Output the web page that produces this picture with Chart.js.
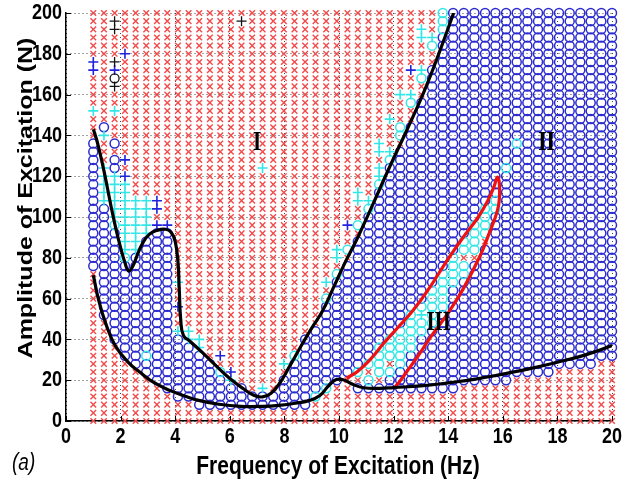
<!DOCTYPE html>
<html><head><meta charset="utf-8">
<script src="https://cdn.jsdelivr.net/npm/chart.js@4.4.0/dist/chart.umd.min.js"></script>
<style>html,body{margin:0;padding:0;background:#fff}#wrap{width:632px;height:480px;position:relative}</style>
</head><body><div id="wrap"><canvas id="c"></canvas></div>
<script>
// Frequency grid (Hz) – columns of the simulation map
const freqs = [1.00,1.39,1.78,2.16,2.55,2.94,3.33,3.71,4.10,4.49,4.88,5.27,5.65,6.04,6.43,6.82,7.20,7.59,7.98,8.37,8.76,9.14,9.53,9.92,10.31,10.69,11.08,11.47,11.86,12.24,12.63,13.02,13.41,13.80,14.18,14.57,14.96,15.35,15.73,16.12,16.51,16.90,17.29,17.67,18.06,18.45,18.84,19.22,19.61,20.00];
// Amplitude grid (N) – rows of the map, top to bottom
const amps = [200,196,192,188,184,180,176,172,168,164,160,156,152,148,144,140,136,132,128,124,120,116,112,108,104,100,96,92,88,84,80,76,72,68,64,60,56,52,48,44,40,36,32,28,24,20,16,12,8,4,0];
// Response type per cell: x=red cross, o=blue circle, c=cyan circle, p=cyan plus, b=blue plus, k=black plus, K=black circle
const X10="xxxxxxxxxx", O10="oooooooooo";
const responseMap = [
 X10+X10+X10+"xxxcoooooo"+O10,
 "xxkxxxxxxx"+"xxxxkxxxxx"+X10+"xxxcoooooo"+O10,
 "xxkxxxxxxx"+X10+X10+"xpxcoooooo"+O10,
 X10+X10+X10+"xppooooooo"+O10,
 X10+X10+X10+"xxcooooooo"+O10,
 "xxxbxxxxxx"+X10+X10+"xxxooooooo"+O10,
 "bxkxxxxxxx"+X10+X10+"xxxooooooo"+O10,
 "bxbxxxxxxx"+X10+X10+"bpoooooooo"+O10,
 "xxKxxxxxxx"+X10+X10+"xcoooooooo"+O10,
 "xxkxxxxxxx"+X10+X10+"xxoooooooo"+O10,
 X10+X10+"xxxxxxxxxp"+"pxoooooooo"+O10,
 X10+X10+X10+"cooooooooo"+O10,
 "pxpxxxxxxx"+X10+X10+"xooooooooo"+O10,
 X10+X10+"xxxxxxxxpx"+"xooooooooo"+O10,
 "xoxxxxxxxx"+X10+"xxxxxxxxxc"+O10+O10,
 "xpxxxxxxxx"+X10+"xxxxxxxxxc"+O10+O10,
 "oxoxxxxxxx"+X10+"xxxxxxxpxx"+O10+"cooooooooo",
 "oxxxxxxxxx"+X10+"xxxxxxxppo"+O10+O10,
 "oxobxxxxxx"+X10+"xxxxxxxxco"+O10+O10,
 "opoxxxxxxx"+"xxxxxxpxxx"+"xxxxxxxpoo"+"oooooooooc"+O10,
 "oppbxxxxxx"+X10+"xxxxxxxpoo"+O10+O10,
 "opppxxxxxx"+X10+"xxxxxxxcoo"+O10+O10,
 "opppxxxxxx"+X10+"xxxxxpxooo"+O10+O10,
 "opppppbxxx"+X10+"xxxxxppooo"+"ooooooooco"+O10,
 "ooppppbxxx"+X10+"xxxxxxcooo"+"ooooooocco"+O10,
 "ooppppxxxx"+X10+"xxxxxxoooo"+"ooooooocoo"+O10,
 "oocpppbbxx"+X10+"xxxxbcoooo"+"ooooooccoo"+O10,
 "ooopppooxx"+X10+"xxxxxxoooo"+"ooooooccoo"+O10,
 "oooppoooxx"+X10+"xxxxxooooo"+"oooooccxoo"+O10,
 "oooppoooxx"+X10+"xxxpcooooo"+"oooooccooo"+O10,
 "ooocooooxx"+X10+"xxxpxooooo"+"oooocxxooo"+O10,
 "ooooooooxx"+X10+"xxxxoooooo"+"ooooccoooo"+O10,
 "xoooooooxx"+X10+"xxxcoooooo"+"ooocccoooo"+O10,
 "xooooooopx"+X10+"xxpooooooo"+"oooccooooo"+O10,
 "xoooooooxx"+X10+"xxxooooooo"+"ooccoooooo"+O10,
 "xoooooooxx"+X10+"xxcooooooo"+"ooccoooooo"+O10,
 "xooooooobx"+X10+"xxoooooooo"+"occcoooooo"+O10,
 "xoooooooxx"+X10+"xxoooooooo"+"cpcooooooo"+O10,
 "xxooooooxx"+X10+"xxoooooooo"+"cccooooooo"+O10,
 "xxoooooopp"+X10+"xooooooooc"+"ccoooooooo"+O10,
 "xxooooooop"+"pxxxxxxxxx"+"oooooooocc"+"cooooooooo"+O10,
 "xxxooooooo"+"pxxxxxxxxx"+"oooooooccc"+"cooooooooo"+O10,
 "xxxoocoooo"+"oxbxxxxxxc"+"oooooooccc"+O10+O10,
 "xxxxoooooo"+"ooxxxxxxpo"+"ooooooccxc"+O10+"ooooooooxx",
 "xxxxxooooo"+"oocbxxxxxo"+"ooooocxcco"+O10+"ooooxxxxxx",
 "xxxxxxoooo"+"ooopxxxxoo"+"ooooxxcxoo"+O10+X10,
 "xxxxxxxooo"+"oooooxpxoo"+"oocxxooooo"+"oooooxxxxx"+X10,
 "xxxxxxxxoo"+O10+"ocxxxxxxxx"+X10+X10,
 X10+O10+"oxxxxxxxxx"+X10+X10,
 X10+X10+X10+X10+X10,
 X10+X10+X10+X10+X10
];
// Boundary curves (Hz, N)
const upperCurveF = [1.0,1.12,1.25,1.4,1.55,1.7,1.85,2.0,2.15,2.3,2.45,2.6,2.8,3.05,3.35,3.65,3.85,4.0,4.1,4.15,4.2,4.3,4.55,5.0,5.5,6.0,6.5,6.9,7.2,7.5,7.8,8.2,8.6,9.0,9.4,9.8,10.2,10.65,11.2,11.87,12.5,13.1,13.6,14.2];
const upperCurveA = [143,138,131,122,112,102,93,85,78,73.5,76,81,87,91.5,93.5,94,92.5,88,78,64,50,42,39,33.5,27,20.8,15.8,12.5,11.8,13.5,18,27,36.5,45.5,54,65.5,77,89,105,125,143,161,178,200];
const lowerCurveF = [1.0,1.2,1.45,1.8,2.3,2.7,3.2,3.8,4.4,4.9,5.6,6.4,7.2,7.8,8.4,8.9,9.3,9.6,9.9,10.2,10.5,10.9,11.5,12.0,13.0,14.0,15.0,16.0,17.0,18.0,19.0,20.0];
const lowerCurveA = [71.5,59,48,37,28.5,24,19,15,12,10,8.2,7.2,7.2,7.7,8.7,10,12.5,17,20.3,20,18,16.3,16,16.4,17.2,18.7,20.5,23,25.7,28.8,32.3,37];
const loopCurveF = [10.28,10.7,11.2,11.6,12.1,12.7,13.3,13.95,14.6,15.1,15.45,15.68,15.8,15.87,15.88,15.8,15.5,15.17,14.56,14.0,13.4,12.9,12.5,12.2,12.0];
const loopCurveA = [21,24.5,31,37.5,45,54,65,78.5,91,100,108,115,119.5,117,110,103,92,81,65,53,42,32,24.5,19,16];
// Region labels
const regionLabels = [{t:"I",f:7.0,a:136},{t:"II",f:17.6,a:136},{t:"III",f:13.65,a:48}];
const xTicks = [0,2,4,6,8,10,12,14,16,18,20];
const yTicks = [0,20,40,60,80,100,120,140,160,180,200];
const xTitle = 'Frequency of Excitation (Hz)';
const yTitle = 'Amplitude of Excitation (N)';
const panelTag = '(a)';

const styles = {
 x:{pointStyle:'crossRot',radius:4,color:'#f24a4a',w:1.4,order:10},
 o:{pointStyle:'circle',radius:4.5,color:'#2b2bcf',w:1.5,order:9},
 c:{pointStyle:'circle',radius:4.5,color:'#33e6e6',w:1.5,order:8},
 p:{pointStyle:'cross',radius:5,color:'#33e6e6',w:1.6,order:7},
 b:{pointStyle:'cross',radius:5,color:'#2222dd',w:1.6,order:6},
 k:{pointStyle:'cross',radius:5,color:'#111111',w:1.3,order:5},
 K:{pointStyle:'circle',radius:4.5,color:'#111111',w:1.3,order:4}
};
const pts = {x:[],o:[],c:[],p:[],b:[],k:[],K:[]};
responseMap.forEach((row,ri)=>{
  for(let ci=0;ci<freqs.length;ci++){
    const ch=row[ci]; if(pts[ch]) pts[ch].push({x:freqs[ci],y:amps[ri]});
  }
});
const datasets = [];
['x','o','c','p','b','k','K'].forEach(k=>{
  const s=styles[k];
  datasets.push({type:'scatter',order:s.order,clip:false,data:pts[k],pointStyle:s.pointStyle,pointRadius:s.radius,pointHoverRadius:s.radius,
    borderColor:s.color,pointBorderColor:s.color,backgroundColor:'rgba(0,0,0,0)',pointBackgroundColor:'rgba(0,0,0,0)',pointBorderWidth:s.w,showLine:false});
});
function curve(F,A,color){
  return {type:'scatter',order:1,data:F.map((f,i)=>({x:f,y:A[i]})),showLine:true,borderColor:color,borderWidth:3.2,pointRadius:0,tension:0.45,fill:false};
}
datasets.push(curve(upperCurveF,upperCurveA,'#000'));
datasets.push(curve(lowerCurveF,lowerCurveA,'#000'));
datasets.push(curve(loopCurveF,loopCurveA,'#ee1111'));

const SY=1.25; // vertical stretch of the original figure's text
function stretchedText(ctx,t,x,y){ctx.save();ctx.translate(x,y);ctx.scale(1,SY);ctx.fillText(t,0,0);ctx.restore();}
const decor = {
  id:'decor',
  afterDatasetsDraw(chart){
    const {ctx,scales:{x,y},chartArea:ca}=chart;
    ctx.save();
    ctx.fillStyle='#000'; ctx.font='bold 21px "Liberation Serif"'; ctx.textAlign='center'; ctx.textBaseline='middle';
    regionLabels.forEach(l=>stretchedText(ctx,l.t,x.getPixelForValue(l.f),y.getPixelForValue(l.a)));
    ctx.strokeStyle='#000'; ctx.lineWidth=1;
    xTicks.forEach(v=>{const px=Math.round(x.getPixelForValue(v))+0.5; ctx.beginPath(); ctx.moveTo(px,ca.bottom); ctx.lineTo(px,ca.bottom-5); ctx.stroke();});
    yTicks.forEach(v=>{const py=Math.round(y.getPixelForValue(v))+0.5; ctx.beginPath(); ctx.moveTo(ca.left,py); ctx.lineTo(ca.left+5,py); ctx.stroke();});
    // tick labels
    ctx.font='bold 18px "Liberation Sans"';
    ctx.textAlign='center'; ctx.textBaseline='middle';
    xTicks.forEach(v=>stretchedText(ctx,String(v),x.getPixelForValue(v),ca.bottom+16));
    ctx.textAlign='right';
    yTicks.forEach(v=>stretchedText(ctx,String(v),ca.left-4,y.getPixelForValue(v)));
    // titles
    ctx.textAlign='center'; ctx.textBaseline='alphabetic';
    ctx.font='bold 21px "Liberation Sans"';
    stretchedText(ctx,xTitle,338,474);
    ctx.font='bold 20px "Liberation Sans"';
    ctx.save(); ctx.translate(32,198); ctx.rotate(-Math.PI/2); ctx.scale(SY,1); ctx.fillText(yTitle,0,0); ctx.restore();
    ctx.textAlign='left'; ctx.font='italic 19px "Liberation Sans"';
    stretchedText(ctx,panelTag,12,470);
    ctx.restore();
  }
};

new Chart(document.getElementById('c'),{
  data:{datasets},
  options:{
    responsive:true, maintainAspectRatio:false, animation:false,
    layout:{padding:{left:0,right:20,top:13,bottom:0}},
    plugins:{legend:{display:false},tooltip:{enabled:false}},
    scales:{
      x:{type:'linear',min:0,max:20,
         afterFit(s){s.height=59; s.paddingLeft=0; s.paddingRight=0;},
         afterBuildTicks(s){s.ticks=xTicks.map(v=>({value:v}));},
         ticks:{display:false},
         grid:{color:'#444',lineWidth:1,drawTicks:false},
         border:{display:true,color:'#000',width:1.5,dash:[1,3]}},
      y:{type:'linear',min:0,max:200,
         afterFit(s){s.width=66; s.paddingTop=0; s.paddingBottom=0;},
         afterBuildTicks(s){s.ticks=yTicks.map(v=>({value:v}));},
         ticks:{display:false},
         grid:{color:'#444',lineWidth:1,drawTicks:false},
         border:{display:true,color:'#000',width:1.5,dash:[1,3]}}
    }
  },
  plugins:[decor]
});
</script></body></html>
